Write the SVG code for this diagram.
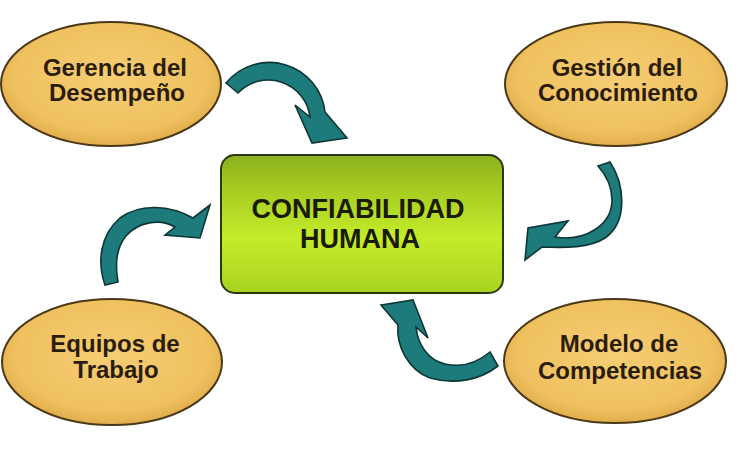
<svg xmlns="http://www.w3.org/2000/svg" width="742" height="449" viewBox="0 0 742 449">
<defs>
<radialGradient id="gOval" cx="50%" cy="45%" r="55%">
<stop offset="0" stop-color="#f6cd74"/>
<stop offset="0.8" stop-color="#efc15f"/>
<stop offset="1" stop-color="#e2ad4c"/>
</radialGradient>
<linearGradient id="gBox" x1="0" y1="0" x2="0" y2="1">
<stop offset="0" stop-color="#8cb01c"/>
<stop offset="0.25" stop-color="#a6cc22"/>
<stop offset="0.6" stop-color="#c4ec2a"/>
<stop offset="1" stop-color="#a9d21f"/>
</linearGradient>
<style>
.oval{fill:url(#gOval);stroke:#4a3818;stroke-width:2}
.otext{font-family:"Liberation Sans",Arial,sans-serif;font-weight:bold;font-size:24px;fill:#2b1d0e;text-anchor:middle}
.btext{font-family:"Liberation Sans",Arial,sans-serif;font-weight:bold;font-size:27px;fill:#1a1a05;text-anchor:middle}
.arrow{fill:#1e7b7c;stroke:#0d3636;stroke-width:1.6;stroke-linejoin:miter}
</style>
</defs>
<rect width="742" height="449" fill="#ffffff"/>
<g id="connectors">
<path class="arrow" d="M226,83 A56,56 0 0 1 325,112 L347,138 L312,143 L295,105 L310,117 A42,42 0 0 0 238,93 Z"/>
<path class="arrow" d="M598,166 L610,162 C625,185 628,222 605,238 C590,248 565,248 542,247 L525,260 L528,228 L568,221 L555,237 C585,242 612,225 612,200 C612,185 606,175 598,166 Z"/>
<path class="arrow" d="M118,282 L105,285 C97,262 100,235 120,218 C140,203 170,205 193,218 L210,205 L200,238 L165,235 L175,227 C160,218 138,222 126,236 C116,248 115,265 118,282 Z"/>
<path class="arrow" d="M490,352 L498,366 C480,380 455,385 430,378 C408,370 396,345 398,325 L381,305 L413,300 L428,338 L416,327 C418,345 428,360 445,364 C462,368 478,362 490,352 Z"/>
</g>
<g id="center">
<rect x="221" y="155" width="282" height="138" rx="14" ry="14" fill="url(#gBox)" stroke="#2a3810" stroke-width="2"/>
<text class="btext" x="358" y="218">CONFIABILIDAD</text>
<text class="btext" x="360" y="248">HUMANA</text>
</g>
<g id="gerencia">
<ellipse class="oval" cx="111" cy="84" rx="110" ry="62"/>
<text class="otext" x="115" y="76">Gerencia del</text>
<text class="otext" x="117" y="101">Desempeño</text>
</g>
<g id="gestion">
<ellipse class="oval" cx="616" cy="84" rx="111" ry="62"/>
<text class="otext" x="617" y="76">Gestión del</text>
<text class="otext" x="618" y="101">Conocimiento</text>
</g>
<g id="equipos">
<ellipse class="oval" cx="112" cy="362" rx="110" ry="63"/>
<text class="otext" x="115" y="352">Equipos de</text>
<text class="otext" x="116" y="378">Trabajo</text>
</g>
<g id="modelo">
<ellipse class="oval" cx="615" cy="361" rx="111" ry="62"/>
<text class="otext" x="619" y="352">Modelo de</text>
<text class="otext" x="620" y="379">Competencias</text>
</g>
</svg>
